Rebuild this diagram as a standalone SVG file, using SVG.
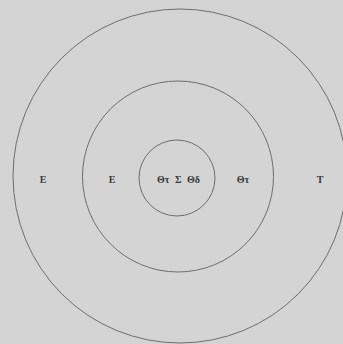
<svg xmlns="http://www.w3.org/2000/svg" width="343" height="344" viewBox="0 0 343 344">
<style>
.c{fill:none;stroke:#6e6e6e;stroke-width:1}
.t{font-family:"Liberation Serif",serif;font-size:10px;font-weight:bold;fill:#3a3a3a;text-anchor:middle}
</style>
<rect width="343" height="344" fill="#d4d4d4"/>
<g id="outer"><circle class="c" cx="180" cy="176" r="167"/></g>
<g id="middle"><circle class="c" cx="178" cy="176.5" r="95.5"/></g>
<g id="inner"><circle class="c" cx="177" cy="178" r="38"/></g>
<g id="labels">
<text class="t" x="43" y="183">E</text>
<text class="t" x="112" y="183">E</text>
<text class="t" x="178.5" y="183" word-spacing="3">Θτ Σ Θδ</text>
<text class="t" x="243" y="183">Θτ</text>
<text class="t" x="320" y="183">T</text>
</g>
</svg>
